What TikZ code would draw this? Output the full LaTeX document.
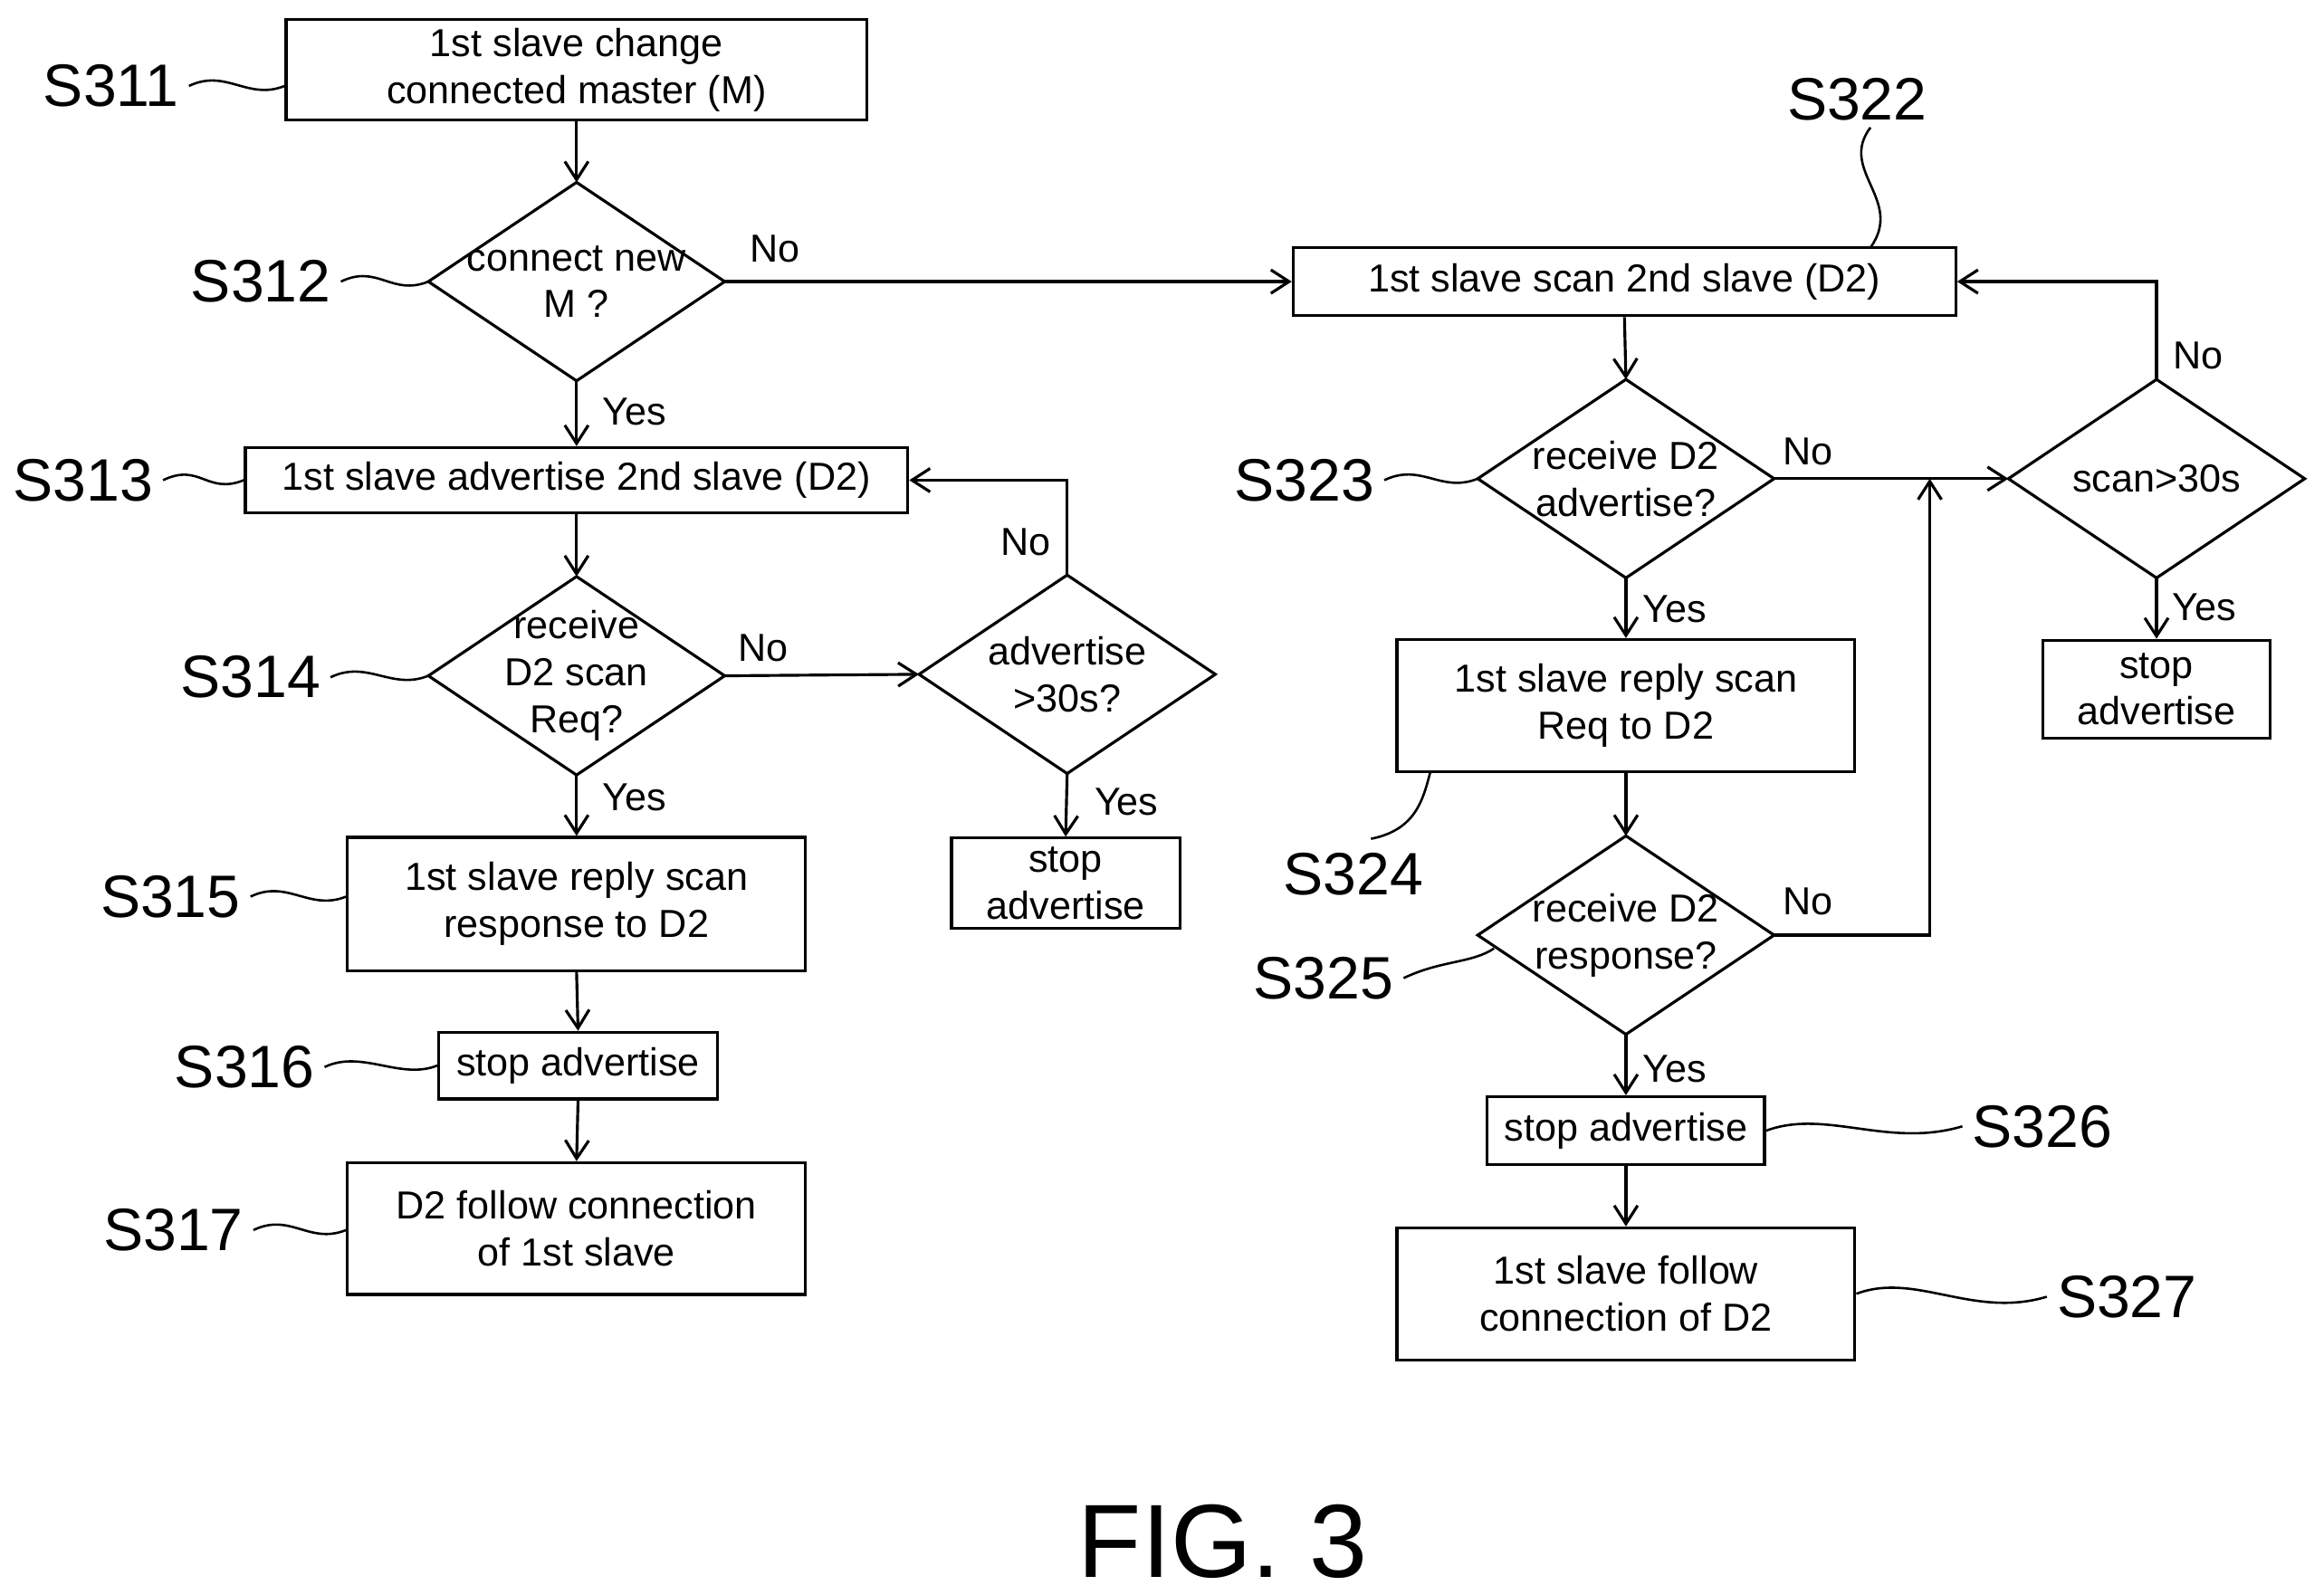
\documentclass[tikz,border=0pt]{standalone}
\usepackage{fontspec}
\setmainfont{Liberation Sans}
\usetikzlibrary{arrows.meta}
\begin{document}
\begin{tikzpicture}[x=0.02cm,y=-0.02cm,line width=1.1pt,
  box/.style={draw,rectangle,inner sep=0pt,align=center,font=\fontsize{15}{18}\selectfont},
  dia/.style={rectangle,inner sep=0pt,align=center,font=\fontsize{15}{18}\selectfont,minimum width=198*0.02cm,minimum height=132*0.02cm},
  lab/.style={font=\fontsize{23}{26}\selectfont},
  yn/.style={font=\fontsize{15}{18}\selectfont},
  arr/.style={-{Straight Barb[length=7pt,width=9pt]}},
  sq/.style={line width=0.9pt}]
\useasboundingbox (0,0) rectangle (1568,1076);
\newcommand{\dmd}[1]{\draw (#1.north)--(#1.east)--(#1.south)--(#1.west)--cycle;}
% left column
\node[box,minimum width=392*0.02cm,minimum height=68*0.02cm] (s311) at (389,47) {1st slave change\\connected master (M)};
\node[dia] (s312) at (389,190) {connect new\\M ?}; \dmd{s312}
\node[box,minimum width=447*0.02cm,minimum height=44*0.02cm] (s313) at (389,324) {1st slave advertise 2nd slave (D2)};
\node[dia] (s314) at (389,456) {receive\\D2 scan\\Req?}; \dmd{s314}
\node[dia] (adv) at (720,455) {advertise\\>30s?}; \dmd{adv}
\node[box,minimum width=154*0.02cm,minimum height=61*0.02cm] (stopL) at (719,596) {stop\\advertise};
\node[box,minimum width=309*0.02cm,minimum height=90*0.02cm] (s315) at (389,610) {1st slave reply scan\\response to D2};
\node[box,minimum width=188*0.02cm,minimum height=45*0.02cm] (s316) at (390,719) {stop advertise};
\node[box,minimum width=309*0.02cm,minimum height=89*0.02cm] (s317) at (389,829) {D2 follow connection\\of 1st slave};
% right column
\node[box,minimum width=447*0.02cm,minimum height=46*0.02cm] (s322) at (1096,190) {1st slave scan 2nd slave (D2)};
\node[dia] (s323) at (1097,323) {receive D2\\advertise?}; \dmd{s323}
\node[dia] (scan) at (1455,323) {scan>30s}; \dmd{scan}
\node[box,minimum width=153*0.02cm,minimum height=66*0.02cm] (stopR) at (1455,465) {stop\\advertise};
\node[box,minimum width=309*0.02cm,minimum height=89*0.02cm] (s324) at (1097,476) {1st slave reply scan\\Req to D2};
\node[dia] (s325) at (1097,631) {receive D2\\response?}; \dmd{s325}
\node[box,minimum width=187*0.02cm,minimum height=46*0.02cm] (s326) at (1097,763) {stop advertise};
\node[box,minimum width=309*0.02cm,minimum height=89*0.02cm] (s327) at (1097,873) {1st slave follow\\connection of D2};
% arrows
\draw[arr] (s311.south)--(s312.north);
\draw[arr] (s312.south)--(s313.north);
\draw[arr] (s313.south)--(s314.north);
\draw[arr] (s314.south)--(s315.north);
\draw[arr] (s315.south)--(s316.north);
\draw[arr] (s316.south)--(s317.north);
\draw[arr] (s314.east)--(adv.west);
\draw[arr] (adv.south)--(stopL.north);
\draw[arr] (adv.north)|-(s313.east);
\draw[arr] (s312.east)--(s322.west);
\draw[arr] (s322.south)--(s323.north);
\draw[arr] (s323.south)--(s324.north);
\draw[arr] (s324.south)--(s325.north);
\draw[arr] (s325.south)--(s326.north);
\draw[arr] (s326.south)--(s327.north);
\draw[arr] (s323.east)--(scan.west);
\coordinate (j) at (1302,323);
\draw[arr] (s325.east)-|(j);
\draw[arr] (scan.south)--(stopR.north);
\draw[arr] (scan.north)|-(s322.east);
% yes/no
\node[yn] at (428,278) {Yes}; \node[yn] at (523,168) {No};
\node[yn] at (515,437) {No}; \node[yn] at (428,538) {Yes};
\node[yn] at (692,366) {No}; \node[yn] at (760,541) {Yes};
\node[yn] at (1130,411) {Yes}; \node[yn] at (1220,305) {No};
\node[yn] at (1483,240) {No}; \node[yn] at (1487,410) {Yes};
\node[yn] at (1220,608) {No}; \node[yn] at (1130,721) {Yes};
% step labels
\node[lab] (l311) at (75,58) {S311};
\node[lab] (l312) at (176,190) {S312};
\node[lab] (l313) at (56,324) {S313};
\node[lab] (l314) at (169,457) {S314};
\node[lab] (l315) at (115,605) {S315};
\node[lab] (l316) at (165,720) {S316};
\node[lab] (l317) at (117,830) {S317};
\node[lab] (l322) at (1253,67) {S322};
\node[lab] (l323) at (880,324) {S323};
\node[lab] (l324) at (913,590) {S324};
\node[lab] (l325) at (893,660) {S325};
\node[lab] (l326) at (1378,760) {S326};
\node[lab] (l327) at (1435,875) {S327};
\draw[sq] (l311.east) .. controls +(25,-12) and +(-25,10) .. (s311.west|-0,58);
\draw[sq] (l312.east) .. controls +(25,-12) and +(-25,10) .. (s312.west);
\draw[sq] (l313.east) .. controls +(25,-12) and +(-25,10) .. (s313.west);
\draw[sq] (l314.east) .. controls +(25,-12) and +(-25,10) .. (s314.west);
\draw[sq] (l315.east) .. controls +(25,-12) and +(-25,10) .. (s315.west|-0,605);
\draw[sq] (l316.east) .. controls +(25,-12) and +(-25,10) .. (s316.west);
\draw[sq] (l317.east) .. controls +(25,-12) and +(-25,10) .. (s317.west|-0,830);
\coordinate (t322) at (1262,167);
\draw[sq] (1262,86) .. controls (1240,115) and (1285,135) .. (t322);
\draw[sq] (l323.east) .. controls +(25,-12) and +(-25,10) .. (s323.west);
\coordinate (b324) at (965,521);
\draw[sq] (925,566) .. controls (955,560) and (960,540) .. (b324);
\coordinate (e325) at (1008,640);
\draw[sq] (l325.east) .. controls +(25,-12) and +(-15,10) .. (e325);
\draw[sq] (s326.east) .. controls +(40,-15) and +(-50,15) .. (l326.west);
\draw[sq] (s327.east) .. controls +(40,-15) and +(-50,15) .. (l327.west);
\node[font=\fontsize{40}{44}\selectfont] (fig) at (825,1040) {FIG. 3};
\end{tikzpicture}
\end{document}
